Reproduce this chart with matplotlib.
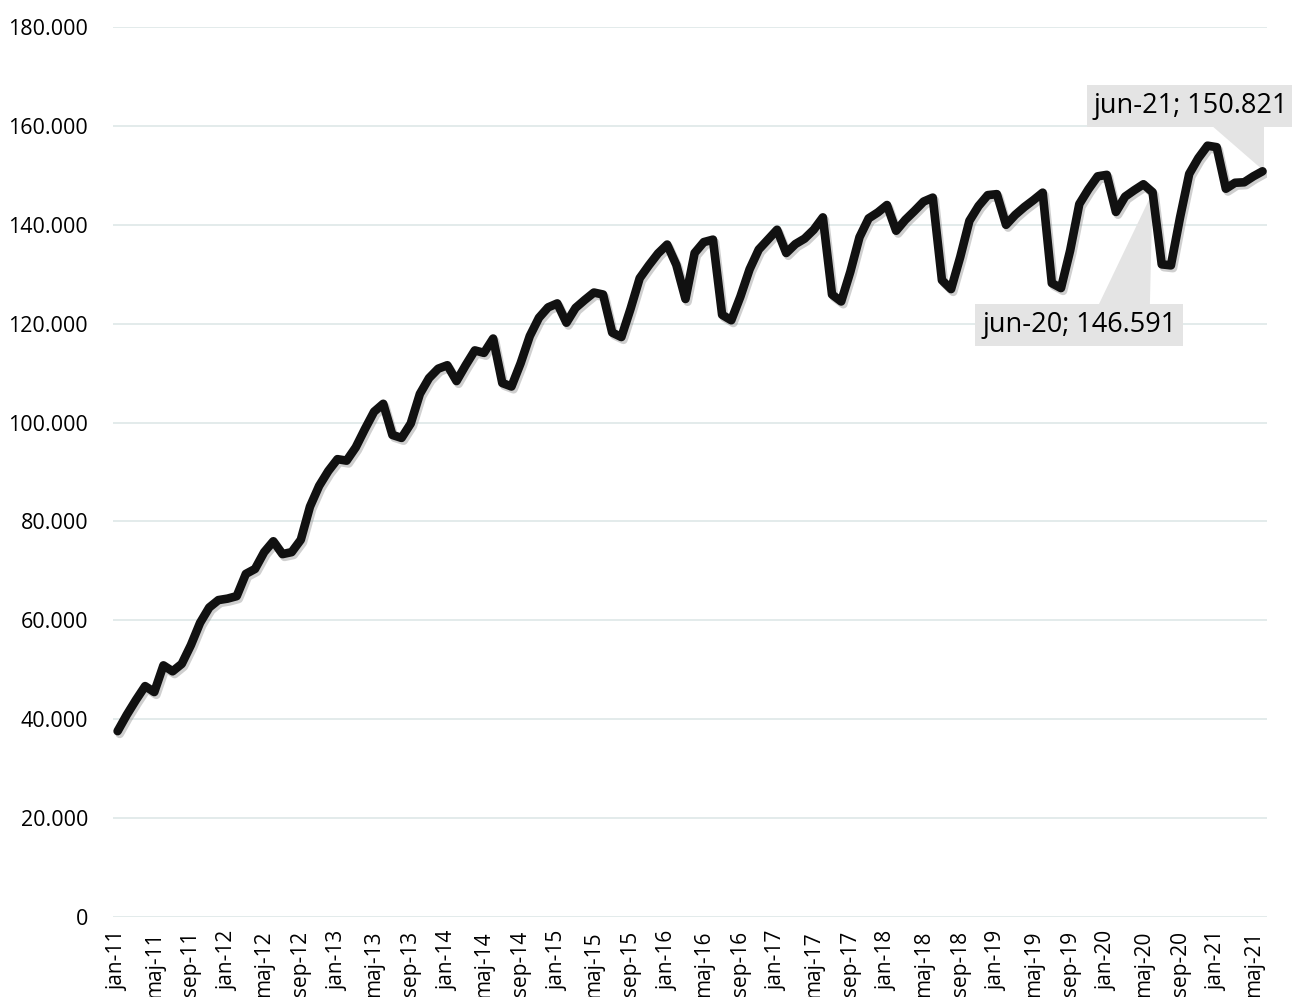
import matplotlib
matplotlib.use("Agg")
import matplotlib.pyplot as plt
import matplotlib.patheffects as pe
from matplotlib.patches import Polygon
from matplotlib.ticker import FuncFormatter

# Månedlige værdier jan-11 .. jun-21
maaneder = ["jan", "feb", "mar", "apr", "maj", "jun", "jul", "aug", "sep", "okt", "nov", "dec"]
labels = [f"{m}-{y % 100:02d}" for y in range(2011, 2022) for m in maaneder][:126]

values = [
    37600, 40900, 43900, 46700, 45500, 50900, 49700, 51200, 55000, 59500, 62600, 64100,
    64400, 64900, 69400, 70400, 73800, 76000, 73400, 73800, 76300, 83000, 87200, 90200,
    92600, 92300, 95000, 98700, 102200, 103800, 97500, 96900, 99800, 105800, 109000, 110900,
    111600, 108400, 111600, 114600, 114100, 117000, 108000, 107300, 112000, 117500, 121200, 123300,
    124100, 120200, 123200, 124800, 126300, 125900, 118200, 117300, 123000, 129200, 131800, 134200,
    136000, 131900, 125000, 134300, 136500, 137000, 121800, 120700, 125500, 131000, 135000, 137000,
    139000, 134300, 136100, 137200, 139000, 141500, 125900, 124500, 130500, 137500, 141300, 142500,
    144000, 138800, 141000, 142800, 144700, 145500, 128800, 127000, 133500, 140800, 143800, 146000,
    146200, 140000, 142000, 143600, 145000, 146500, 128200, 127200, 134800, 144200, 147200, 149800,
    150100, 142600, 145700, 147000, 148200, 146591, 132000, 131800, 141500, 150300, 153500, 156000,
    155700, 147300, 148500, 148600, 149800, 150821,
]

yticks = list(range(0, 180001, 20000))

plt.rcParams['font.family'] = ['Open Sans', 'DejaVu Sans']

fig = plt.figure(figsize=(12.92, 9.97), dpi=100)
ax = fig.add_axes([0.0875, 0.0802, 0.8932, 0.8927])

x = list(range(len(values)))
ax.plot(x, values, color="#111111", linewidth=6.2, solid_joinstyle="round", solid_capstyle="round",
        zorder=3, path_effects=[pe.SimpleLineShadow(offset=(1.5, -2), shadow_color="#777777", alpha=0.35),
                                pe.Normal()])

ax.set_xlim(-0.5, len(values) - 0.5)
ax.set_ylim(0, 180000)
ax.set_yticks(yticks)
ax.yaxis.set_major_formatter(FuncFormatter(lambda v, p: f"{int(v):,}".replace(",", ".")))
ax.set_xticks(x[::4])
ax.set_xticklabels(labels[::4], rotation=90, fontsize=15)
ax.tick_params(axis="y", labelsize=15.5, length=0, pad=18)
ax.tick_params(axis="x", length=0, pad=10)
ax.grid(True, axis="y", color="#dbe6e6", linewidth=1.1)
ax.set_axisbelow(True)
for s in ax.spines.values():
    s.set_visible(False)

# Dataetiketter med pil (callout)
box = dict(boxstyle="square,pad=0.25", facecolor="#e4e4e4", edgecolor="none")
i20 = 113
ax.add_patch(Polygon([(i20 - 6.0, 123400), (i20 - 0.3, 123400), (i20, values[i20])],
                     closed=True, facecolor="#e4e4e4", edgecolor="none", zorder=2))
ax.text(i20 - 8.0, 119700, f"{labels[i20]}; {values[i20]:,}".replace(",", "."),
        ha="center", va="center", fontsize=19.5, bbox=box, zorder=2)

i21 = 125
ax.add_patch(Polygon([(i21 - 5.6, 160200), (i21 + 0.2, 160200), (i21 + 0.2, values[i21])],
                     closed=True, facecolor="#e4e4e4", edgecolor="none", zorder=2, clip_on=False))
ax.text(i21 - 7.8, 164000, f"{labels[i21]}; {values[i21]:,}".replace(",", "."),
        ha="center", va="center", fontsize=19.5, bbox=box, zorder=2, clip_on=False)

fig.savefig("out.png", dpi=100)
